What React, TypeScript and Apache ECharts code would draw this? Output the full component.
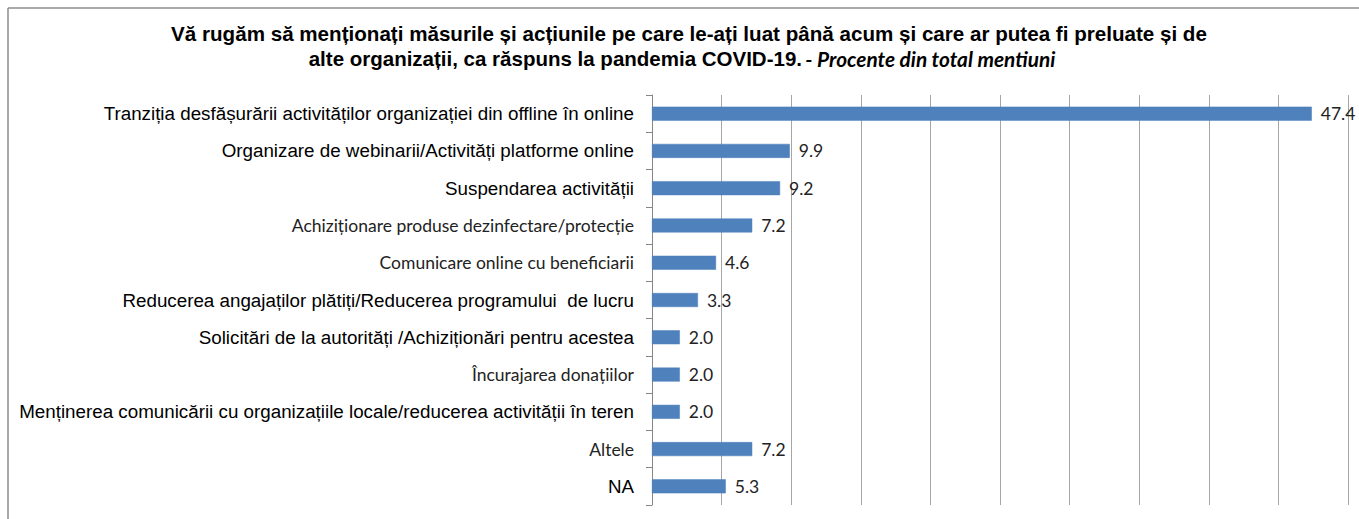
import React, { useEffect, useRef } from "react";
import * as echarts from "echarts";

const categories = [
  "Tranziția desfășurării activităților organizației din offline în online",
  "Organizare de webinarii/Activități platforme online",
  "Suspendarea activității",
  "Achiziționare produse dezinfectare/protecție",
  "Comunicare online cu beneficiarii",
  "Reducerea angajaților plătiți/Reducerea programului  de lucru",
  "Solicitări de la autorități /Achiziționări pentru acestea",
  "Încurajarea donațiilor",
  "Menținerea comunicării cu organizațiile locale/reducerea activității în teren",
  "Altele",
  "NA",
];
const values = [47.4, 9.9, 9.2, 7.2, 4.6, 3.3, 2.0, 2.0, 2.0, 7.2, 5.3];

const titleLine1 = "Vă rugăm să menționați măsurile și acțiunile pe care le-ați luat până acum și care ar putea fi preluate și de";
const titleLine2 = "alte organizații, ca răspuns la pandemia COVID-19.";
const titleNote = "- Procente din total mentiuni";

// categories whose labels are typeset in the lighter (Calibri-like) face
const lightLabelIdx = new Set([3, 4, 7, 9]);

export default function App() {
  const ref = useRef<HTMLDivElement>(null);
  useEffect(() => {
    if (!ref.current) return;
    const chart = echarts.init(ref.current, null, { renderer: "svg" });
    const sans = "'Liberation Sans', Arial, sans-serif";
    const light = "Lato, 'Open Sans', sans-serif";
    chart.setOption({
      animation: false,
      backgroundColor: "#ffffff",
      graphic: [
        { type: "line", shape: { x1: 8, y1: 8, x2: 8, y2: 519 }, style: { stroke: "#8c8c8c", lineWidth: 1.5 } },
        { type: "line", shape: { x1: 8, y1: 8, x2: 1359, y2: 8 }, style: { stroke: "#8c8c8c", lineWidth: 1.5 } },
        {
          type: "text",
          x: 689,
          y: 33,
          style: {
            text: titleLine1,
            fontFamily: sans,
            fontWeight: "bold",
            fontSize: 20.6,
            fill: "#000",
            align: "center",
            verticalAlign: "middle",
          },
        },
        {
          type: "text",
          x: 682,
          y: 58,
          style: {
            text: "{b|" + titleLine2 + "} {i|" + titleNote + "}",
            align: "center",
            verticalAlign: "middle",
            rich: {
              b: { fontFamily: sans, fontWeight: "bold", fontSize: 20.5, fill: "#000", color: "#000" },
              i: { fontFamily: light, fontStyle: "italic", fontWeight: "bold", fontSize: 20.8, fill: "#000", color: "#000" },
            },
          },
        },
      ],
      grid: { left: 652, right: 11, top: 95, bottom: 14, containLabel: false },
      xAxis: {
        type: "value",
        min: 0,
        max: 50,
        interval: 5,
        axisLabel: { show: false },
        axisLine: { show: false },
        axisTick: { show: false },
        splitLine: { show: true, lineStyle: { color: "#a6a6a6", width: 1 } },
      },
      yAxis: {
        type: "category",
        inverse: true,
        data: categories,
        axisLine: { show: true, lineStyle: { color: "#868686", width: 1 } },
        axisTick: { show: true, length: 6, alignWithLabel: false, lineStyle: { color: "#868686" } },
        axisLabel: {
          margin: 18,
          formatter: (v: string) => {
            const i = categories.indexOf(v);
            return lightLabelIdx.has(i) ? "{l|" + v + "}" : "{a|" + v + "}";
          },
          rich: {
            a: { fontFamily: sans, fontSize: 18.8, color: "#000" },
            l: { fontFamily: light, fontSize: 17.5, color: "#222" },
          },
        },
      },
      series: [
        {
          type: "bar",
          data: values,
          barWidth: 14,
          itemStyle: { color: "#4f81bd", borderColor: "#4a7ebb", borderWidth: 0.5 },
          label: {
            show: true,
            position: "right",
            distance: 9,
            formatter: (p: any) => Number(p.value).toFixed(1),
            fontFamily: light,
            fontSize: 17.5,
            color: "#222",
          },
        },
      ],
    });
    return () => chart.dispose();
  }, []);
  return (
    <div
      ref={ref}
      style={{ position: "fixed", left: 0, top: 0, width: 1359, height: 519 }}
    />
  );
}
